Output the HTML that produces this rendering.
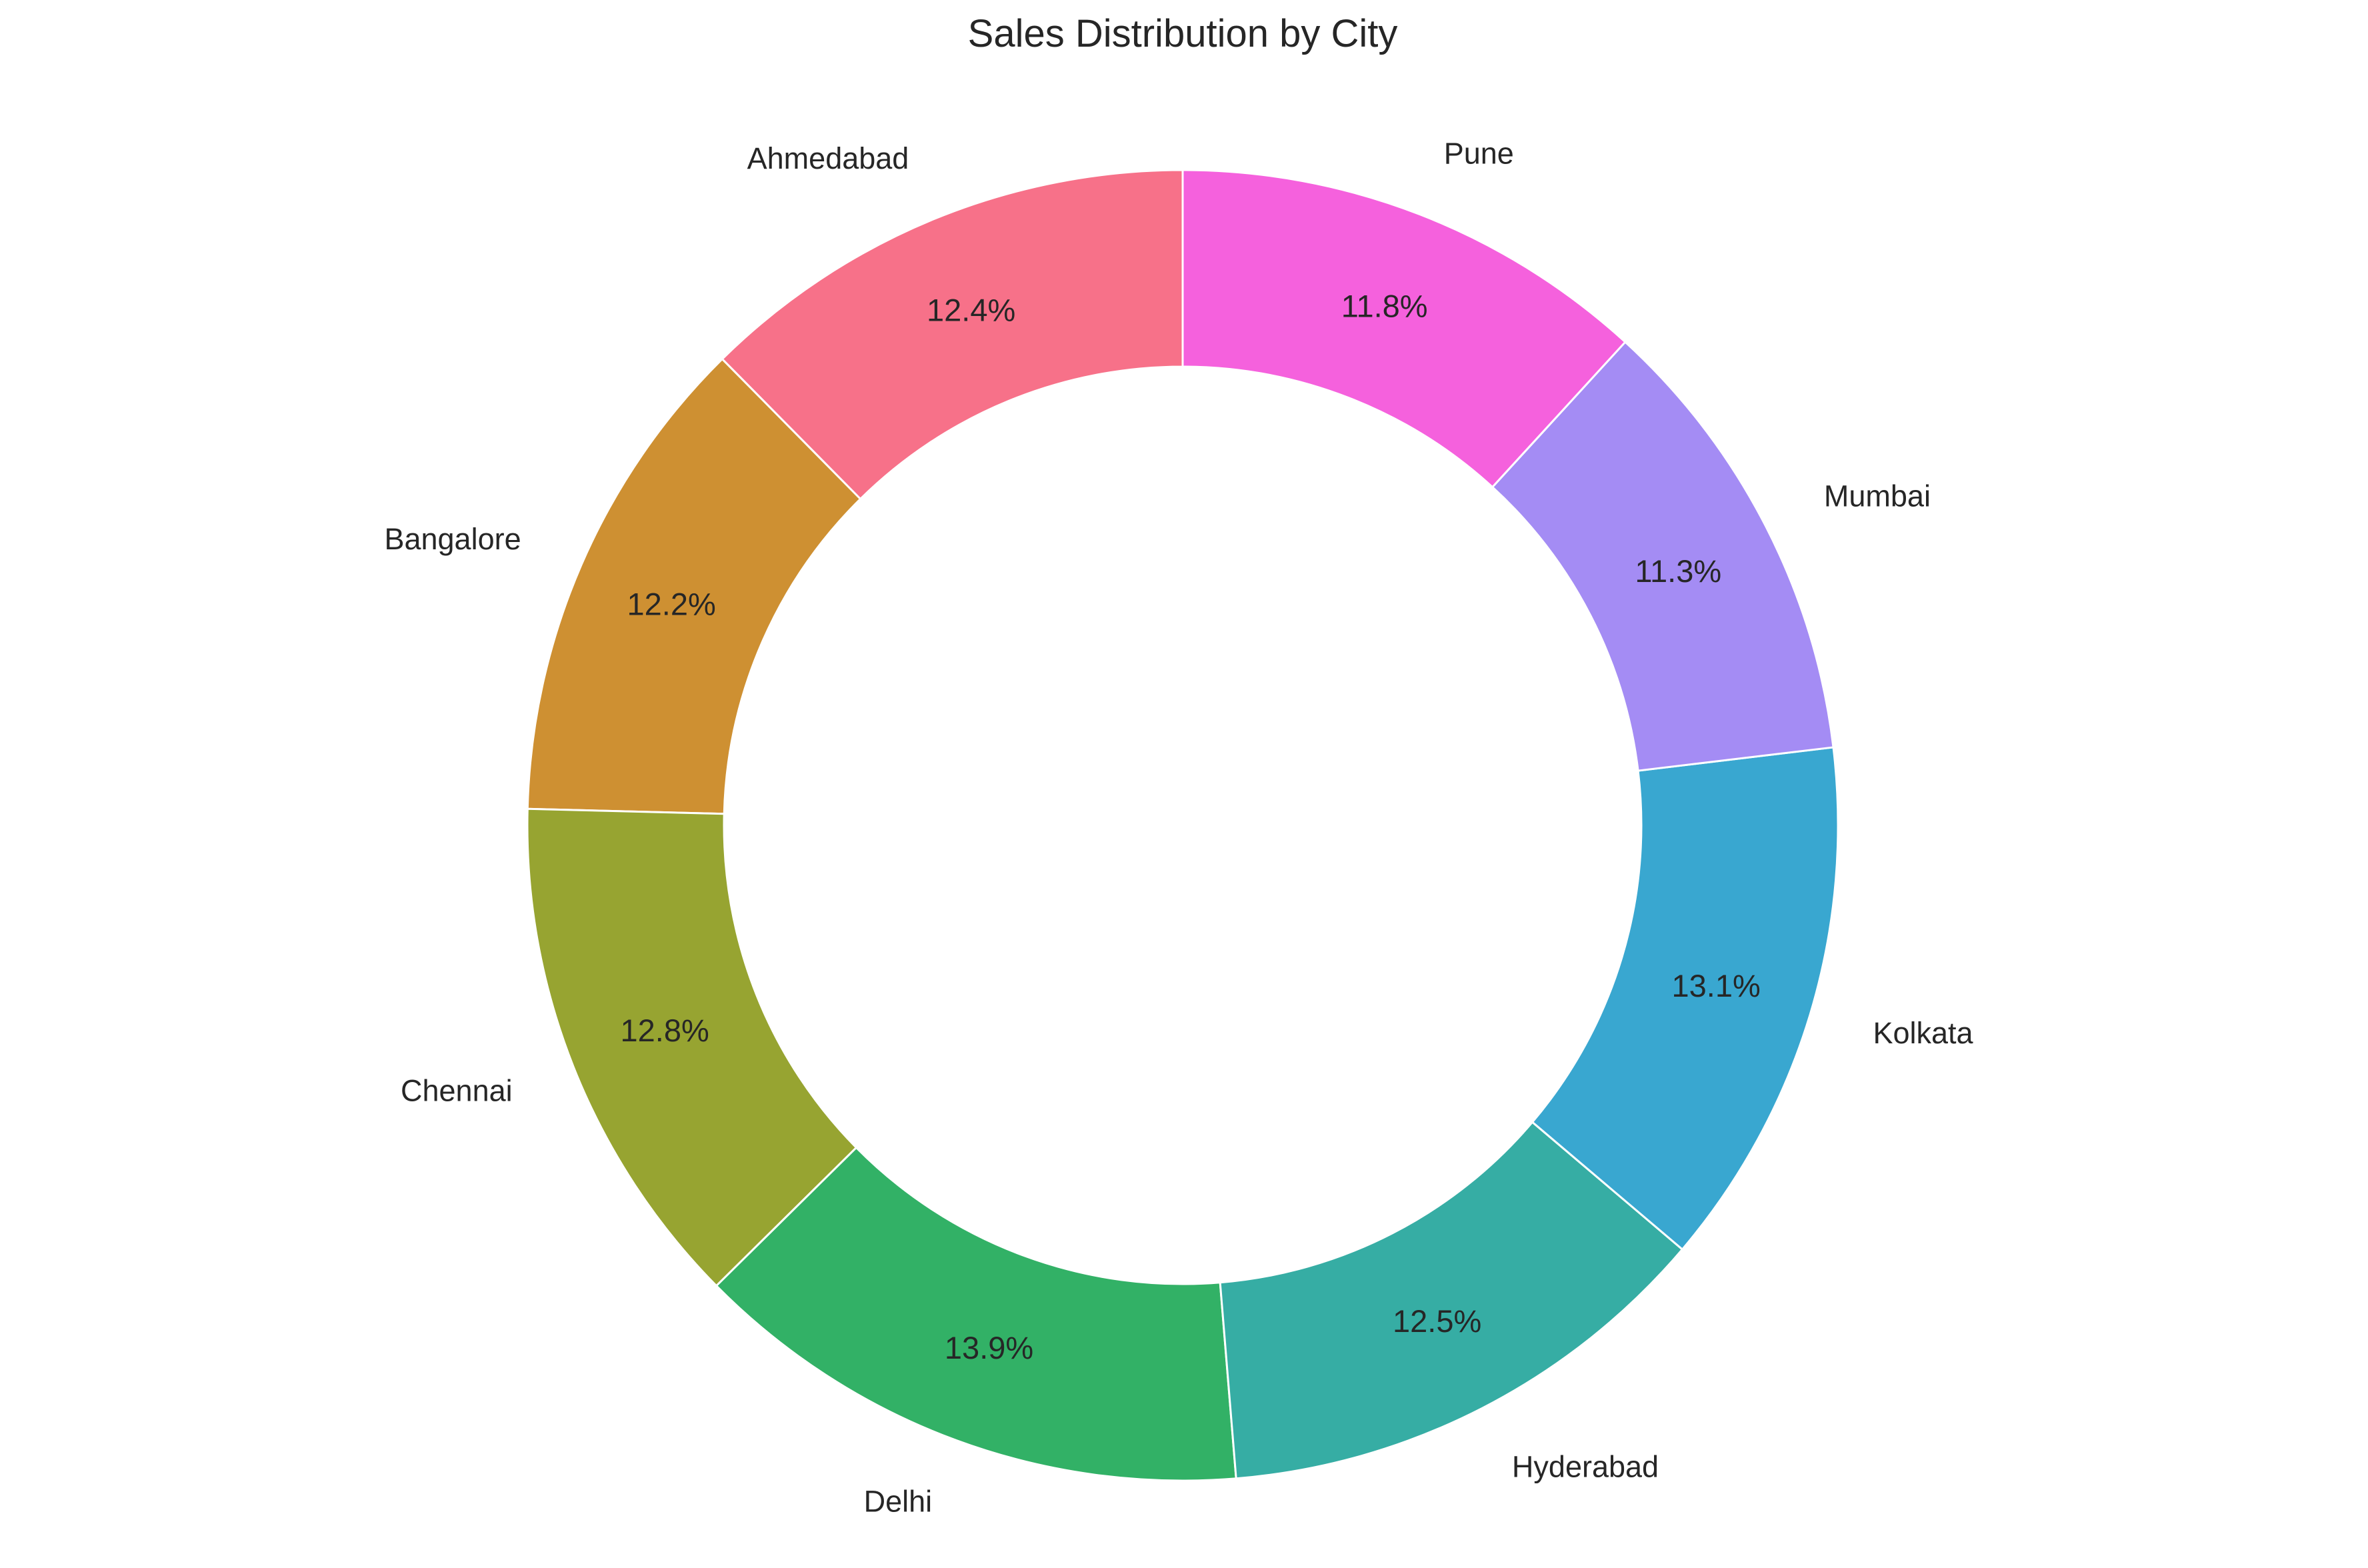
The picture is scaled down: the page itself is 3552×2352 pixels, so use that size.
<!DOCTYPE html>
<html>
<head>
<meta charset="utf-8">
<style>
  html,body{margin:0;padding:0;background:#fff;}
  svg{display:block;}
  text{font-family:"Liberation Sans", Arial, sans-serif;fill:#262626;}
</style>
</head>
<body>
<svg id="chart" width="3552" height="2352" viewBox="0 0 3552 2352" xmlns="http://www.w3.org/2000/svg">
  <rect width="3552" height="2352" fill="#ffffff"/>
  <text x="1774" y="70" text-anchor="middle" font-size="58">Sales Distribution by City</text>
  <g id="slices"></g>
  <g id="labels"></g>
</svg>
<script>
const categories = ["Ahmedabad","Bangalore","Chennai","Delhi","Hyderabad","Kolkata","Mumbai","Pune"];
const values = [12.4, 12.2, 12.8, 13.9, 12.5, 13.1, 11.3, 11.8];
const colors = ["#f77189","#ce9032","#97a431","#32b166","#36ada4","#39a7d0","#a48cf4","#f561dd"];

const cx = 1774, cy = 1238, R = 983, r = 688;
const NS = "http://www.w3.org/2000/svg";
const sliceG = document.getElementById("slices");
const labelG = document.getElementById("labels");
const total = values.reduce((a,b)=>a+b,0);
function pt(rad, ang){ return [cx + rad*Math.cos(ang), cy - rad*Math.sin(ang)]; }

let start = Math.PI/2;
values.forEach((v,i)=>{
  const sweep = v/total*2*Math.PI;
  const end = start + sweep;
  const [x1,y1] = pt(R,start), [x2,y2] = pt(R,end);
  const [x3,y3] = pt(r,end), [x4,y4] = pt(r,start);
  const large = sweep > Math.PI ? 1 : 0;
  const d = `M${x1},${y1} A${R},${R} 0 ${large} 0 ${x2},${y2} L${x3},${y3} A${r},${r} 0 ${large} 1 ${x4},${y4} Z`;
  const p = document.createElementNS(NS,"path");
  p.setAttribute("d", d);
  p.setAttribute("fill", colors[i]);
  p.setAttribute("stroke", "#ffffff");
  p.setAttribute("stroke-width", "3");
  
  
  sliceG.appendChild(p);

  const mid = (start+end)/2;
  const [lx,ly] = pt(R*1.1, mid);
  const t = document.createElementNS(NS,"text");
  t.setAttribute("x", lx);
  t.setAttribute("y", ly);
  t.setAttribute("font-size", "45");
  t.setAttribute("dominant-baseline", "central");
  t.setAttribute("text-anchor", Math.cos(mid) > 0 ? "start" : "end");
  t.textContent = categories[i];
  
  
  labelG.appendChild(t);

  const [px,py] = pt(R*0.85, mid);
  const pc = document.createElementNS(NS,"text");
  pc.setAttribute("x", px);
  pc.setAttribute("y", py);
  pc.setAttribute("font-size", "47");
  pc.setAttribute("dominant-baseline", "central");
  pc.setAttribute("text-anchor", "middle");
  pc.textContent = (v/total*100).toFixed(1) + "%";
  
  
  labelG.appendChild(pc);

  start = end;
});
</script>
</body>
</html>
